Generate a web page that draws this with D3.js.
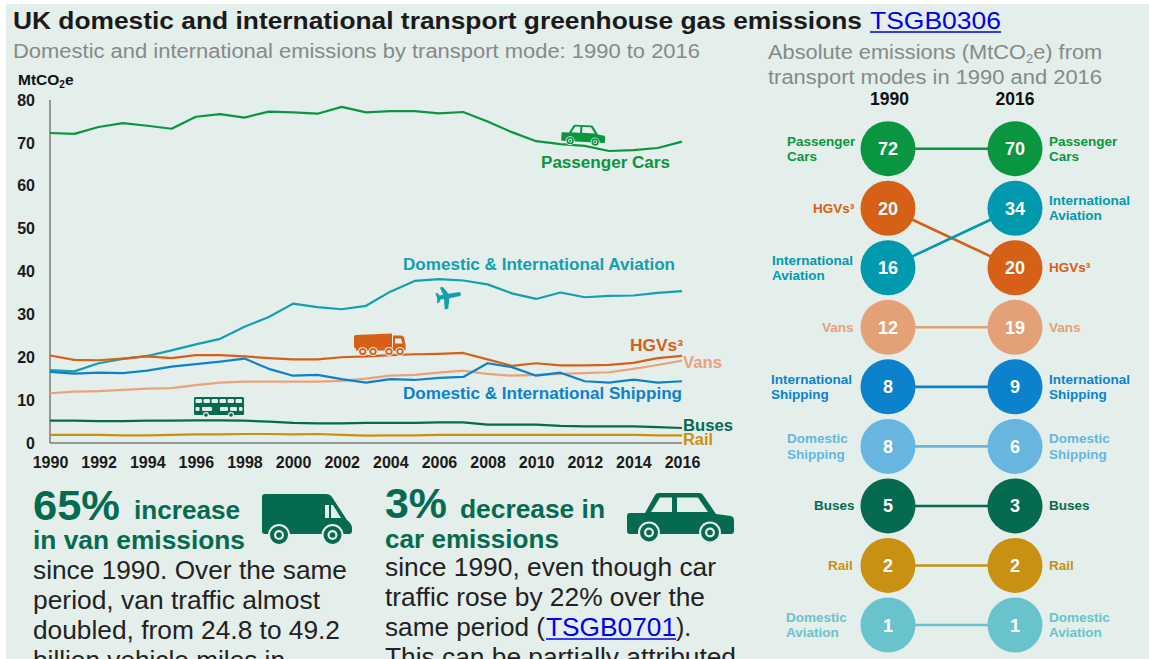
<!DOCTYPE html>
<html>
<head>
<meta charset="utf-8">
<script src="https://cdn.jsdelivr.net/npm/d3@7"></script>
<style>
  html, body { margin: 0; background: #fff; overflow: hidden; }
  text { font-family: "Liberation Sans", Arial, sans-serif; }
  .axis text { font-weight: bold; font-size: 16px; fill: #1a1a1a; }
  .axis path { stroke: #7a7a7a; stroke-width: 1.5px; }
  .axis line { display: none; }
</style>
</head>
<body>
<div id="chart"></div>
<script>
const years = d3.range(1990, 2017);
const carValues = [72.3,72.1,73.7,74.6,74.0,73.3,76.1,76.7,75.9,77.3,77.1,76.8,78.4,77.1,77.4,77.4,76.9,77.2,75.0,72.5,70.4,69.7,69.3,68.1,68.3,68.8,70.3];
const aviationValues = [17.0,16.7,18.6,19.6,20.3,21.6,23.0,24.3,27.1,29.4,32.5,31.7,31.2,32.0,35.3,37.8,38.2,37.9,37.0,34.9,33.6,35.1,34.0,34.3,34.4,35.0,35.4];
const hgvValues = [20.4,19.4,19.3,19.7,20.2,19.8,20.5,20.5,20.2,19.8,19.5,19.5,20.0,20.2,20.5,20.7,20.8,21.0,19.5,18.0,18.6,18.1,18.1,18.2,18.7,19.8,20.3];
const vanValues = [11.6,12.0,12.1,12.4,12.7,12.8,13.5,14.1,14.3,14.3,14.3,14.3,14.5,15.0,15.7,15.9,16.4,16.9,16.1,15.7,15.9,16.1,16.3,16.5,17.3,18.2,19.2];
const shippingValues = [16.6,16.2,16.4,16.3,16.9,17.8,18.4,19.0,19.7,17.3,15.7,15.9,14.9,14.1,14.9,14.7,15.2,15.4,18.6,17.7,15.7,16.4,14.4,14.1,14.8,14.1,14.4];
const busValues = [5.2,5.2,5.1,5.1,5.2,5.2,5.3,5.3,5.2,5.0,4.7,4.6,4.6,4.7,4.7,4.7,4.8,4.8,4.3,4.3,4.3,4.0,3.9,3.9,3.9,3.7,3.5];
const railValues = [1.9,1.9,1.9,1.8,1.8,1.9,2.0,2.0,2.1,2.1,2.0,2.1,1.9,1.7,1.8,1.8,1.9,1.9,1.9,1.9,1.9,1.9,1.9,1.9,1.9,1.8,1.8];

const yTicks = [0, 10, 20, 30, 40, 50, 60, 70, 80];
const xTicks = d3.range(1990, 2017, 2);

const slopeModes = ["Passenger Cars", "HGVs³", "International Aviation", "Vans", "International Shipping", "Domestic Shipping", "Buses", "Rail", "Domestic Aviation"];
const values1990 = [72, 20, 16, 12, 8, 8, 5, 2, 1];
const values2016 = [70, 20, 34, 19, 9, 6, 3, 2, 1];
const rank1990 = [0, 1, 2, 3, 4, 5, 6, 7, 8];
const rank2016 = [0, 2, 1, 3, 4, 5, 6, 7, 8];

const colors = {
  cars: "#0a9640", aviation: "#129fb0", hgv: "#d56016", vans: "#e9a27a",
  shipping: "#0c82cc", domShipping: "#68b5e0", buses: "#056a50", rail: "#c99112", domAviation: "#69c3cc"
};
const slopeColors = [colors.cars, colors.hgv, "#0099ae", "#e4a077", colors.shipping, colors.domShipping, colors.buses, colors.rail, colors.domAviation];
const panelBg = "#e4eeea";
const darkGreen = "#056a50";

const svg = d3.select("#chart").append("svg").attr("width", 1149).attr("height", 659).style("display", "block");
svg.append("rect").attr("x", 6).attr("y", 4).attr("width", 1143).attr("height", 655).attr("fill", panelBg);

function label(x, y, str, size, color, opts) {
  opts = opts || {};
  const t = svg.append("text").attr("x", x).attr("y", y).text(str)
    .attr("font-size", size).attr("fill", color)
    .attr("font-weight", opts.weight || "normal")
    .attr("text-anchor", opts.anchor || "start");
  if (opts.width) t.attr("textLength", opts.width).attr("lengthAdjust", "spacingAndGlyphs");
  return t;
}

function link(x, y, str, size, width) {
  label(x, y, str, size, "#0000ee", { width: width });
  svg.append("line").attr("x1", x).attr("x2", x + width).attr("y1", y + 3).attr("y2", y + 3)
    .attr("stroke", "#0000ee").attr("stroke-width", 1.6);
}

// headings
label(13, 29, "UK domestic and international transport greenhouse gas emissions", 24, "#1a1a1a", { weight: "bold", width: 849 });
link(870, 29, "TSGB0306", 24, 131);
label(13, 58, "Domestic and international emissions by transport mode: 1990 to 2016", 20, "#858a88", { width: 687 });

const sub = label(0, 0, "Absolute emissions (MtCO", 20, "#858a88")
  .attr("transform", "translate(768,59) scale(1.09,1)");
sub.append("tspan").attr("dy", 4).attr("font-size", 12).text("2");
sub.append("tspan").attr("dy", -4).text("e) from");
label(768, 84, "transport modes in 1990 and 2016", 20, "#858a88", { width: 334 });

const unit = label(18, 85, "MtCO", 15.5, "#111", { weight: "bold" });
unit.append("tspan").attr("dy", 3).attr("font-size", 10).text("2");
unit.append("tspan").attr("dy", -3).text("e");

// line chart
const x = d3.scaleLinear().domain([1990, 2016]).range([50, 682]);
const y = d3.scaleLinear().domain([0, 80]).range([443, 100]);

svg.append("g").attr("class", "axis").attr("transform", "translate(50,0)")
  .call(d3.axisLeft(y).tickValues(yTicks).tickSize(0).tickPadding(15))
  .call(g => g.selectAll("path").attr("d", `M0,${y(80)}V${y(0)}`));
svg.append("g").attr("class", "axis").attr("transform", "translate(0,443)")
  .call(d3.axisBottom(x).tickValues(xTicks).tickSize(0).tickPadding(13.5).tickFormat(d3.format("d")))
  .call(g => g.selectAll("path").attr("d", `M${x(1990)},0H${x(2016)}`));

const line = d3.line().x((d, i) => x(years[i])).y(d => y(d));
const lineSeries = [
  [railValues, colors.rail], [busValues, colors.buses], [vanValues, colors.vans],
  [aviationValues, colors.aviation], [hgvValues, colors.hgv], [shippingValues, colors.shipping], [carValues, colors.cars]
];
svg.append("g").selectAll("path").data(lineSeries).enter().append("path")
  .attr("d", d => line(d[0])).attr("fill", "none")
  .attr("stroke", d => d[1]).attr("stroke-width", 2.2).attr("stroke-linejoin", "round");

label(541, 168, "Passenger Cars", 16, colors.cars, { weight: "bold", width: 129 });
label(403, 270, "Domestic & International Aviation", 16, colors.aviation, { weight: "bold", width: 272 });
label(403, 399, "Domestic & International Shipping", 16, colors.shipping, { weight: "bold", width: 279 });
label(630, 351, "HGVs³", 16, colors.hgv, { weight: "bold", width: 53 });
label(683, 368, "Vans", 16, colors.vans, { weight: "bold", width: 39 });
label(683, 430.5, "Buses", 16, colors.buses, { weight: "bold", width: 50 });
label(683, 444.5, "Rail", 16, colors.rail, { weight: "bold", width: 30 });

// icons
function wheel(g, cx, cy, color, bg) {
  g.append("circle").attr("cx", cx).attr("cy", cy).attr("r", 11).attr("fill", bg);
  g.append("circle").attr("cx", cx).attr("cy", cy).attr("r", 9).attr("fill", color);
  g.append("circle").attr("cx", cx).attr("cy", cy).attr("r", 5).attr("fill", bg);
  g.append("circle").attr("cx", cx).attr("cy", cy).attr("r", 2.8).attr("fill", color);
}

function carIcon(g, color, bg) {
  g.append("path").attr("fill", color)
    .attr("d", "M18,20 L28,2 Q29,0 32,0 H72 Q75,0 76,2 L89,21 L104,23 Q107,24 107,27 V38 Q107,41 104,41 H3 Q0,41 0,38 V23 Q0,20 3,20 Z");
  g.append("path").attr("fill", bg).attr("d", "M24,19 L33,4.5 H45 V19 Z M50,4.5 H71 L81,19 H50 Z");
  wheel(g, 22, 39.5, color, bg);
  wheel(g, 83, 39.5, color, bg);
}

function vanIcon(g, color, bg) {
  g.append("path").attr("fill", color)
    .attr("d", "M3,0 H64 Q68,0 70,3 L85,26 Q90,30 90,34 V37 Q90,40 87,40 H3 Q0,40 0,37 V3 Q0,0 3,0 Z");
  g.append("path").attr("fill", bg).attr("d", "M63,11 H67 V24 H63 Z M69,11 H71 L79,24 H69 Z");
  wheel(g, 17, 41, color, bg);
  wheel(g, 70.5, 41, color, bg);
}

function busIcon(g, color, bg) {
  g.append("rect").attr("width", 50).attr("height", 18).attr("rx", 1.5).attr("fill", color);
  d3.range(6).forEach(i => {
    g.append("rect").attr("x", 1.5 + i * 8).attr("y", 2).attr("width", 6.5).attr("height", 4).attr("rx", 1).attr("fill", bg);
  });
  [[1.5, 4], [8, 10], [26, 8], [36, 7], [45, 3.5]].forEach(w => {
    g.append("rect").attr("x", w[0]).attr("y", 10).attr("width", w[1]).attr("height", 4).attr("rx", 1).attr("fill", bg);
  });
  [12, 37].forEach(cx => {
    g.append("circle").attr("cx", cx).attr("cy", 18).attr("r", 3).attr("fill", bg);
    g.append("circle").attr("cx", cx).attr("cy", 18).attr("r", 1.8).attr("fill", color);
  });
}

function truckIcon(g, color, bg) {
  g.append("path").attr("fill", color).attr("d", "M2,1.5 L38,0 V14 L2,15 Q0,15 0,13 V3 Q0,1.5 2,1.5 Z");
  g.append("path").attr("fill", color).attr("d", "M39,2 H47 Q49,2 50,4 L51.5,11 V17 H39 Z");
  g.append("path").attr("fill", bg).attr("d", "M41,5 H47 L48.5,10 H41 Z");
  g.append("rect").attr("x", 2).attr("y", 14).attr("width", 40).attr("height", 3).attr("fill", color);
  [8.7, 19, 35, 46].forEach(cx => {
    g.append("circle").attr("cx", cx).attr("cy", 18).attr("r", 4.6).attr("fill", bg);
    g.append("circle").attr("cx", cx).attr("cy", 18).attr("r", 3.6).attr("fill", color);
    g.append("circle").attr("cx", cx).attr("cy", 18).attr("r", 1.8).attr("fill", bg);
  });
}

function planeIcon(g, color) {
  g.append("path").attr("fill", color)
    .attr("d", "M11,-2 Q13,0 11,2 L0,2.2 L-3,12.5 H-6.5 L-5.5,2.2 L-9,2 L-11,5 H-13 L-12,0 L-13,-5 H-11 L-9,-2 L-5.5,-2.2 L-7.5,-10 H-4.5 L0,-2.2 Z");
}

vanIcon(svg.append("g").attr("transform", "translate(262,494)"), darkGreen, panelBg);
carIcon(svg.append("g").attr("transform", "translate(627,493)"), darkGreen, panelBg);
carIcon(svg.append("g").attr("transform", "translate(562,124) rotate(3) scale(0.41)"), colors.cars, panelBg);
busIcon(svg.append("g").attr("transform", "translate(194,397)"), darkGreen, panelBg);
truckIcon(svg.append("g").attr("transform", "translate(354,333.5)"), colors.hgv, panelBg);
planeIcon(svg.append("g").attr("transform", "translate(449,296) rotate(-10)"), colors.aviation);

// text blocks under the chart
label(33, 520, "65%", 43, darkGreen, { weight: "bold", width: 87 });
label(134, 519, "increase", 25, darkGreen, { weight: "bold", width: 106 });
label(33, 549, "in van emissions", 25, darkGreen, { weight: "bold", width: 212 });
label(385, 518, "3%", 43, darkGreen, { weight: "bold", width: 62 });
label(460, 518, "decrease in", 25, darkGreen, { weight: "bold", width: 145 });
label(385, 548, "car emissions", 25, darkGreen, { weight: "bold", width: 174 });

[["since 1990. Over the same", 314], ["period, van traffic almost", 287], ["doubled, from 24.8 to 49.2", 307], ["billion vehicle miles in", 252]]
  .forEach((d, i) => label(33, 579 + i * 30, d[0], 25, "#222", { width: d[1] }));
[["since 1990, even though car", 331], ["traffic rose by 22% over the", 320], ["same period (", 160], ["This can be partially attributed", 351]]
  .forEach((d, i) => label(385, 576 + i * 30, d[0], 25, "#222", { width: d[1] }));
link(546, 636, "TSGB0701", 25, 130);
label(676, 636, ").", 25, "#222");

// slope chart
const rankY = d3.scalePoint().domain(d3.range(9)).range([148.7, 625]);
const col1990 = 888, col2016 = 1015, radius = 27.5;

label(col1990 + 1.5, 105, "1990", 17.5, "#111", { weight: "bold", anchor: "middle" });
label(col2016, 105, "2016", 17.5, "#111", { weight: "bold", anchor: "middle" });

const slope = svg.append("g");
slope.selectAll("line").data(slopeModes).enter().append("line")
  .attr("x1", col1990).attr("x2", col2016)
  .attr("y1", (d, i) => rankY(rank1990[i])).attr("y2", (d, i) => rankY(rank2016[i]))
  .attr("stroke", (d, i) => slopeColors[i]).attr("stroke-width", 2.6);

[[col1990, values1990, rank1990], [col2016, values2016, rank2016]].forEach(col => {
  slope.append("g").selectAll("circle").data(slopeModes).enter().append("circle")
    .attr("cx", col[0]).attr("cy", (d, i) => rankY(col[2][i])).attr("r", radius)
    .attr("fill", (d, i) => slopeColors[i]);
  slope.append("g").selectAll("text").data(slopeModes).enter().append("text")
    .attr("x", col[0]).attr("y", (d, i) => rankY(col[2][i]) + 6.5)
    .attr("text-anchor", "middle").attr("font-size", 18).attr("font-weight", "bold").attr("fill", "#fff")
    .text((d, i) => col[1][i]);
});

const leftEdges = [787, 813, 772, 822, 771, 787, 814, 828, 786];
function modeLabel(lines, lx, cy, color) {
  lines.forEach((l, j) => {
    const by = cy + 4.5 + (j - (lines.length - 1) / 2) * 15.4;
    label(lx, by, l, 13.5, color, { weight: "bold" });
  });
}
slopeModes.forEach((mode, i) => {
  const lines = mode.split(" ");
  modeLabel(lines, leftEdges[i], rankY(rank1990[i]), slopeColors[i]);
  modeLabel(lines, 1049, rankY(rank2016[i]), slopeColors[i]);
});
</script>
</body>
</html>
